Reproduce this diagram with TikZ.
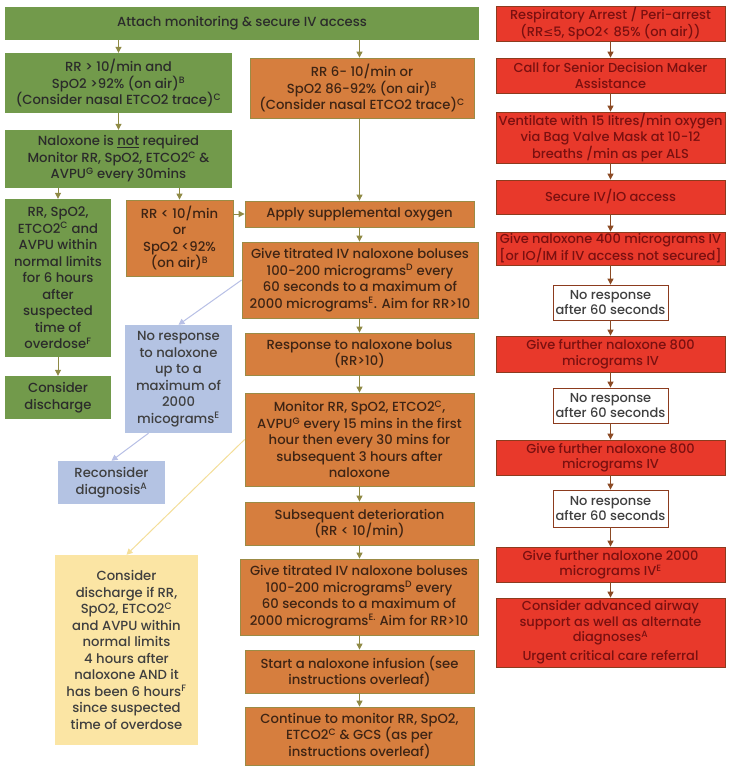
\documentclass[tikz,border=0pt]{standalone}
\usepackage{fontspec}
\setmainfont{Poppins}[UprightFont={* Medium}]
\newfontfamily\dejavu{DejaVu Sans}
\usetikzlibrary{arrows.meta,calc}
\definecolor{gfill}{HTML}{729A4B}
\definecolor{gtext}{HTML}{2B2B2B}
\definecolor{ofill}{HTML}{D67E3E}
\definecolor{oline}{HTML}{9B8B45}
\definecolor{otext}{HTML}{3E2414}
\definecolor{rfill}{HTML}{E8392B}
\definecolor{rline}{HTML}{8C3B1E}
\definecolor{rtext}{HTML}{7A1010}
\definecolor{bfill}{HTML}{B4C3E3}
\definecolor{yfill}{HTML}{FBE5A4}
\definecolor{ntext}{HTML}{3F3F3F}
\definecolor{arrol}{HTML}{8F8A45}
\definecolor{arrred}{HTML}{8B4A24}
\definecolor{lav}{HTML}{B8C0E6}
\definecolor{ylin}{HTML}{F4DE98}
\newcommand{\sps}[1]{\textsuperscript{#1}}
\newcommand{\bx}[7]{%
  \node[#1, minimum width={(#5-#3)*1pt}, minimum height={(#6-#4)*1pt}] (#2) at ({(#3+#5)/2},{(#4+#6)/2}) {#7};}
\tikzset{
  basebox/.style={inner sep=0pt, align=center, font=\fontsize{13.2}{16.5}\selectfont},
  gbox/.style={basebox, fill=gfill, text=gtext},
  obox/.style={basebox, fill=ofill, draw=oline, line width=0.8pt, text=otext},
  rbox/.style={basebox, fill=rfill, draw=rline, line width=0.8pt, text=rtext, font=\fontsize{13}{15.5}\selectfont},
  wbox/.style={basebox, fill=white, draw=rline, line width=0.8pt, text=ntext, font=\fontsize{13}{15}\selectfont},
  bbox/.style={basebox, fill=bfill, text=ntext},
  ybox/.style={basebox, fill=yfill, text=ntext},
  arr/.style={draw=arrol, line width=1pt, -{Triangle[length=6pt,width=6pt]}},
  rarr/.style={draw=arrred, line width=1pt, -{Triangle[length=6pt,width=6pt]}},
  larr/.style={draw=lav, line width=1pt, -{Triangle[length=6pt,width=6pt]}},
  yarr/.style={draw=ylin, line width=1pt, -{Triangle[length=6pt,width=6pt]}}
}
\begin{document}
\begin{tikzpicture}[x=1pt,y=-1pt]
\useasboundingbox[fill=white] (0,0) rectangle (729,768);
% green
\bx{gbox}{top}{5}{7}{479}{40}{Attach monitoring \& secure IV access}
\bx{gbox}{g2}{5}{53}{232}{113}{RR > 10/min and\\SpO2 >92\% (on air)\sps{B}\\(Consider nasal ETCO2 trace)\sps{C}}
\bx{gbox}{g3}{5}{130}{232}{188}{Naloxone is \underline{not} required\\Monitor RR, SpO2, ETCO2\sps{C} \&\\AVPU\sps{G} every 30mins}
\bx{gbox}{g4}{5}{199}{111}{357}{RR, SpO2,\\ETCO2\sps{C} and\\AVPU within\\normal limits\\for 6 hours\\after\\suspected\\time of\\overdose\sps{F}}
\bx{gbox}{g5}{5}{376}{111}{419}{Consider\\discharge}
% orange
\bx{obox}{o1}{250}{58}{474}{118}{RR 6- 10/min or\\SpO2 86-92\% (on air)\sps{B}\\(Consider nasal ETCO2 trace)\sps{C}}
\bx{obox}{o2}{126}{200}{233}{276}{RR < 10/min\\or\\SpO2 <92\%\\(on air)\sps{B}}
\bx{obox}{o3}{245}{201}{474}{227}{Apply supplemental oxygen}
\bx{obox}{o4}{242}{242}{478}{318}{Give titrated IV naloxone boluses\\100-200 micrograms\sps{D} every\\60 seconds to a maximum of\\2000 micrograms\sps{E}. Aim for RR>10}
\bx{obox}{o5}{245}{333}{474}{375}{Response to naloxone bolus\\(RR>10)}
\bx{obox}{o6}{245}{393}{474}{486}{Monitor RR, SpO2, ETCO2\sps{C},\\AVPU\sps{G} every 15 mins in the first\\hour then every 30 mins for\\subsequent 3 hours after\\naloxone}
\bx{obox}{o7}{245}{502}{474}{545}{Subsequent deterioration\\(RR < 10/min)}
\bx{obox}{o8}{240}{559}{478}{635}{Give titrated IV naloxone boluses\\100-200 micrograms\sps{D} every\\60 seconds to a maximum of\\2000 micrograms\sps{E.} Aim for RR>10}
\bx{obox}{o9}{245}{650}{474}{693}{Start a naloxone infusion (see\\instructions overleaf)}
\bx{obox}{o10}{245}{707}{474}{765}{Continue to monitor RR, SpO2,\\ETCO2\sps{C} \& GCS (as per\\instructions overleaf)}
% blue
\bx{bbox}{b1}{125}{325}{232}{433}{No response\\to naloxone\\up to a\\maximum of\\2000\\micograms\sps{E}}
\bx{bbox}{b2}{58}{461}{165}{504}{Reconsider\\diagnosis\sps{A}}
% yellow
\bx{ybox}{y1}{55}{555}{198}{745}{Consider\\discharge if RR,\\SpO2, ETCO2\sps{C}\\and AVPU within\\normal limits\\4 hours after\\naloxone AND it\\has been 6 hours\sps{F}\\since suspected\\time of overdose}
% red
\bx{rbox}{r1}{496}{6}{725}{41}{Respiratory Arrest / Peri-arrest\\(RR{\dejavu\fontsize{12}{15}\selectfont ≤}5, SpO2< 85\% (on air))}
\bx{rbox}{r2}{496}{58}{725}{93}{Call for Senior Decision Maker\\Assistance}
\bx{rbox}{r3}{496}{112}{725}{163}{Ventilate with 15 litres/min oxygen\\via Bag Valve Mask at 10-12\\breaths /min as per ALS}
\bx{rbox}{r4}{496}{180}{725}{214}{Secure IV/IO access}
\bx{rbox}{r5}{496}{232}{725}{265}{Give naloxone 400 micrograms IV\\{[}or IO/IM if IV access not secured{]}}
\bx{wbox}{w1}{553}{285}{668}{320}{No response\\after 60 seconds}
\bx{rbox}{r6}{496}{336}{725}{372}{Give further naloxone 800\\micrograms IV}
\bx{wbox}{w2}{553}{388}{668}{423}{No response\\after 60 seconds}
\bx{rbox}{r7}{496}{440}{725}{475}{Give further naloxone 800\\micrograms IV}
\bx{wbox}{w3}{553}{490}{668}{527}{No response\\after 60 seconds}
\bx{rbox}{r8}{496}{547}{725}{582}{Give further naloxone 2000\\micrograms IV\sps{E}}
\bx{rbox}{r9}{496}{598}{725}{667}{Consider advanced airway\\support as well as alternate\\diagnoses\sps{A}\\[3pt]Urgent critical care referral}
% arrows left
\draw[arr] (g2.north |- top.south) -- (g2.north);
\draw[arr] (o3.north |- top.south) -- (o3.north |- o1.north);
\draw[arr] (o3.north |- o1.south) -- (o3.north);
\draw[arr] (g2.south) -- (g2.south |- g3.north);
\draw[arr] (g4.north |- g3.south) -- (g4.north);
\draw[arr] (o2.north |- g3.south) -- (o2.north);
\draw[arr] (o3.west -| o2.east) -- (o3.west);
\draw[arr] (g4.south) -- (g5.north);
\draw[arr] (o3.south) -- (o3.south |- o4.north);
\draw[arr] (o3.south |- o4.south) -- (o3.south |- o5.north);
\draw[arr] (o5.south) -- (o6.north);
\draw[arr] (o6.south) -- (o7.north);
\draw[arr] (o7.south) -- (o7.south |- o8.north);
\draw[arr] (o7.south |- o8.south) -- (o9.north);
\draw[arr] (o9.south) -- (o10.north);
\draw[larr] (o4.west) -- (b1.north);
\draw[larr] ([xshift=-30pt]b1.south) -- (b2.north);
\draw[yarr] (o6.west) -- (y1.north);
% arrows red
\draw[rarr] (r1.south) -- (r2.north);
\draw[rarr] (r2.south) -- (r3.north);
\draw[rarr] (r3.south) -- (r4.north);
\draw[rarr] (r4.south) -- (r5.north);
\draw[rarr] (r5.south) -- (w1.north);
\draw[rarr] (w1.south) -- (r6.north);
\draw[rarr] (r6.south) -- (w2.north);
\draw[rarr] (w2.south) -- (r7.north);
\draw[rarr] (r7.south) -- (w3.north);
\draw[rarr] (w3.south) -- (r8.north);
\draw[rarr] (r8.south) -- (r9.north);
\end{tikzpicture}
\end{document}
